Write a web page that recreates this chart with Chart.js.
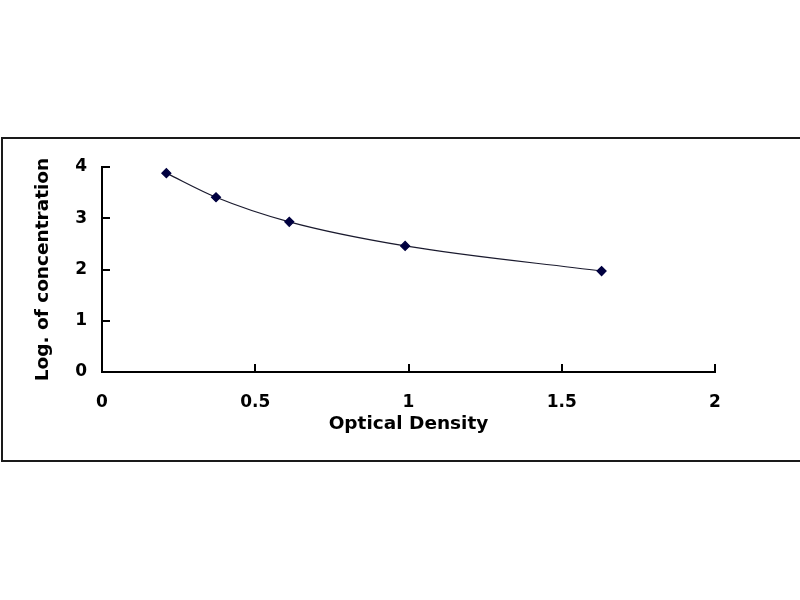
<!DOCTYPE html>
<html>
<head>
<meta charset="utf-8">
<script src="https://cdn.jsdelivr.net/npm/chart.js@4"></script>
<style>
	html, body { margin: 0; padding: 0; background: #fff; overflow: hidden; }
	#frame { position: absolute; left: 1px; top: 137px; width: 900px; height: 321px; border: 2px solid #1a1a1a; }
	#chart { position: absolute; left: 0; top: 0; }
</style>
</head>
<body>
<div id="frame"></div>
<canvas id="chart" width="800" height="600"></canvas>
<script>
var opticalDensity = [0.21, 0.372, 0.611, 0.989, 1.630];
var logConc        = [3.88, 3.41, 2.93, 2.46, 1.97];
var xTitle = 'Optical Density';
var yTitle = 'Log. of concentration';

var FONT = 'DejaVu Sans';

// tick marks drawn inward, like the original
var insideTicks = {
	id: 'insideTicks',
	afterDraw: function(chart) {
		var ctx = chart.ctx, xs = chart.scales.x, ys = chart.scales.y, a = chart.chartArea;
		ctx.save();
		ctx.strokeStyle = '#000';
		ctx.lineWidth = 2;
		ctx.beginPath();
		xs.ticks.forEach(function(t) {
			var px = Math.round(xs.getPixelForValue(t.value));
			ctx.moveTo(px, a.bottom);
			ctx.lineTo(px, a.bottom - 8);
		});
		ys.ticks.forEach(function(t) {
			var py = Math.round(ys.getPixelForValue(t.value));
			ctx.moveTo(a.left, py);
			ctx.lineTo(a.left + 8, py);
		});
		ctx.stroke();
		ctx.restore();
	}
};

var points = opticalDensity.map(function(v, i) { return {x: v, y: logConc[i]}; });

new Chart(document.getElementById('chart'), {
	type: 'scatter',
	data: {
		datasets: [{
			data: points,
			showLine: true,
			cubicInterpolationMode: 'monotone',
			borderColor: '#1a1a2e',
			borderWidth: 1.2,
			pointStyle: 'rectRot',
			pointRadius: 4.5,
			pointBackgroundColor: '#000040',
			pointBorderColor: '#000040'
		}]
	},
	options: {
		responsive: false,
		devicePixelRatio: 1,
		animation: false,
		layout: { padding: { left: 20, top: 167, right: 85, bottom: 158 } },
		plugins: { legend: { display: false }, tooltip: { enabled: false } },
		scales: {
			x: {
				type: 'linear', min: 0, max: 2,
				grid: { display: false },
				border: { color: '#000', width: 2 },
				ticks: {
					stepSize: 0.5, padding: 12, color: '#000',
					font: { family: FONT, size: 17, weight: 'bold' },
					callback: function(v) { return String(v); }
				},
				title: { display: true, text: xTitle, color: '#000', padding: { top: 0, bottom: 7 }, font: { family: FONT, size: 18.5, weight: 'bold' } },
				afterFit: function(s) { s.height = 70; }
			},
			y: {
				min: 0, max: 4,
				grid: { display: false },
				border: { color: '#000', width: 2 },
				ticks: { stepSize: 1, padding: 7, color: '#000', font: { family: FONT, size: 17, weight: 'bold' } },
				title: { display: true, text: yTitle, color: '#000', padding: { top: 12, bottom: 0 }, font: { family: FONT, size: 18.5, weight: 'bold' } },
				afterFit: function(s) { s.width = 82; }
			}
		}
	},
	plugins: [insideTicks]
});
</script>
</body>
</html>
